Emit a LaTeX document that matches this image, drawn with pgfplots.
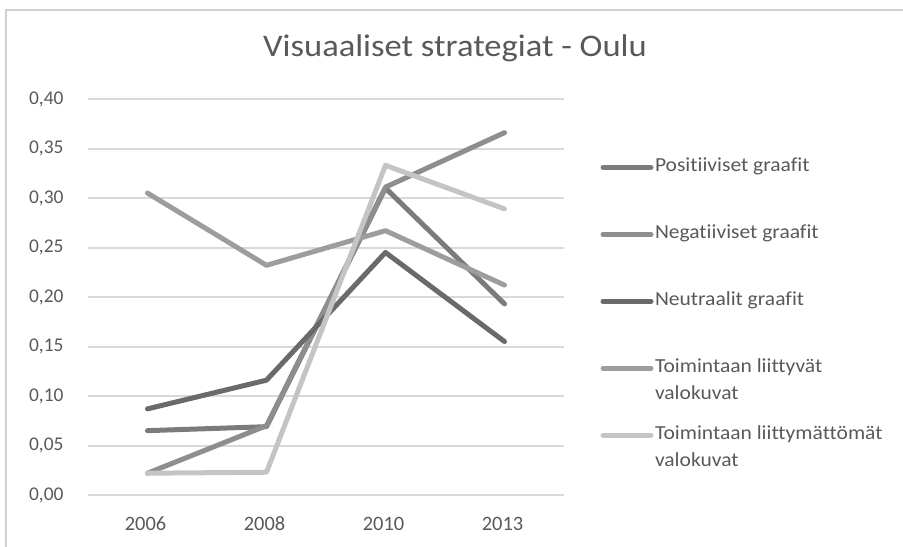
\documentclass[border=0pt]{standalone}
\usepackage{fontspec}
\setmainfont{Carlito}[Ligatures=NoCommon]
\newfontfamily\legfont[FakeStretch=1.08, Ligatures=NoCommon]{Carlito}
\newfontfamily\titfont[FakeStretch=1.1, Ligatures=NoCommon]{Carlito}
\usepackage{pgfplots}
\pgfplotsset{compat=1.18}
\definecolor{txt}{HTML}{595959}
\definecolor{gridc}{HTML}{D9D9D9}
\definecolor{framec}{HTML}{D0D0D0}
\definecolor{cpos}{HTML}{7B7B7B}
\definecolor{cneg}{HTML}{8E8E8E}
\definecolor{cneu}{HTML}{6A6A6A}
\definecolor{cliit}{HTML}{9D9D9D}
\definecolor{cmuu}{HTML}{C4C4C4}
\newcommand{\twoline}[2]{\begin{tabular}[t]{@{}l@{}}#1\\[0pt]#2\end{tabular}}
\begin{document}
\begin{tikzpicture}
\useasboundingbox (0,0) rectangle (903bp,547bp);
\draw[framec, line width=2bp] (6bp,-5bp) -- (6bp,537bp) -- (910bp,537bp);
\node[text=txt, font=\titfont\fontsize{31.5}{36}\selectfont] at (455bp,499bp) {Visuaaliset strategiat - Oulu};
\begin{axis}[
  at={(88bp,52bp)}, anchor=south west, scale only axis,
  width=476bp, height=396bp,
  xmin=-0.5, xmax=3.5, ymin=0, ymax=0.4,
  xtick={0,1,2,3}, xticklabels={2006,2008,2010,2013},
  ytick={0,0.05,0.1,0.15,0.2,0.25,0.3,0.35,0.4},
  axis line style={draw=none},
  ymajorgrids, grid style={color=gridc, line width=2bp},
  major tick length=0pt, xtick style={draw=none}, ytick style={draw=none},
  xticklabel style={text=txt, font=\fontsize{20.5}{24}\selectfont, anchor=base, yshift=-35bp, xshift=-2bp},
  yticklabel style={text=txt, font=\fontsize{19.5}{24}\selectfont, xshift=-21bp,
    /pgf/number format/.cd, use comma, fixed, fixed zerofill, precision=2, assume math mode=true},
  clip=false,
  legend cell align=left,
  legend style={draw=none, fill=none, at={(axis description cs:1.070,0.862)}, anchor=north west,
    row sep=44bp, font=\legfont\fontsize{20}{27}\selectfont, text=txt,
    nodes={text height=14bp, text depth=5bp, inner xsep=1.5bp}},
  legend image code/.code={\draw[#1, line cap=round] (0bp,0bp) -- (48bp,0bp);},
  every axis plot/.append style={line width=5bp, line join=round, line cap=round, mark=none},
]
\addplot[cpos] coordinates {(0,0.065) (1,0.069) (2,0.310) (3,0.193)};
\addlegendentry{Positiiviset graafit}
\addplot[cneg] coordinates {(0,0.022) (1,0.070) (2,0.311) (3,0.366)};
\addlegendentry{Negatiiviset graafit}
\addplot[cneu] coordinates {(0,0.087) (1,0.116) (2,0.245) (3,0.155)};
\addlegendentry{Neutraalit graafit}
\addplot[cliit] coordinates {(0,0.305) (1,0.232) (2,0.267) (3,0.212)};
\addlegendentry{\twoline{Toimintaan liittyvät}{valokuvat}}
\addplot[cmuu] coordinates {(0,0.022) (1,0.023) (2,0.333) (3,0.289)};
\addlegendentry{\twoline{Toimintaan liittymättömät}{valokuvat}}
\end{axis}
\end{tikzpicture}
\end{document}
